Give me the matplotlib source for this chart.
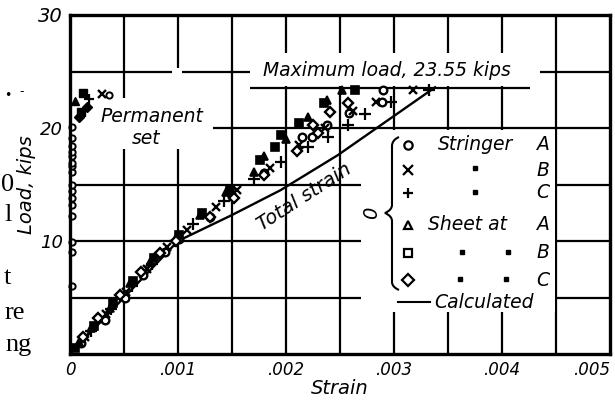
import matplotlib
matplotlib.use("Agg")
import matplotlib.pyplot as plt
from matplotlib.path import Path
from matplotlib.patches import PathPatch, Rectangle

# ---------------- data ----------------
# total strain (load, kips vs strain)
stringer_A_strain = [0.00010, 0.00032, 0.00051, 0.00068, 0.00088, 0.00101, 0.00130, 0.00150, 0.00180, 0.00215, 0.00224, 0.00238, 0.00258, 0.00289, 0.00290]
stringer_A_load   = [1.0, 3.0, 5.0, 7.0, 9.0, 10.2, 12.1, 14.0, 16.0, 19.2, 19.2, 20.3, 21.3, 22.3, 23.4]
stringer_B_strain = [0.00014, 0.00033, 0.00052, 0.00071, 0.00090, 0.00108, 0.00135, 0.00155, 0.00185, 0.00212, 0.00236, 0.00262, 0.00283, 0.00318]
stringer_B_load   = [1.5, 3.5, 5.5, 7.5, 9.5, 11.0, 13.0, 14.5, 16.5, 18.5, 20.0, 21.5, 22.3, 23.4]
stringer_C_strain = [0.00019, 0.00038, 0.00057, 0.00076, 0.00097, 0.00114, 0.00143, 0.00170, 0.00195, 0.00220, 0.00239, 0.00257, 0.00273, 0.00297, 0.00332]
stringer_C_load   = [2.0, 4.0, 6.0, 8.0, 10.0, 11.5, 13.5, 15.5, 17.0, 18.3, 19.2, 20.3, 21.2, 22.3, 23.4]
sheet_A_strain = [0.00008, 0.00019, 0.00037, 0.00056, 0.00074, 0.00099, 0.00120, 0.00144, 0.00170, 0.00180, 0.00200, 0.00220, 0.00238, 0.00252]
sheet_A_load   = [1.1, 2.3, 4.1, 6.3, 8.1, 10.4, 12.3, 14.3, 16.1, 17.5, 19.0, 21.0, 22.5, 23.4]
sheet_B_strain = [0.00005, 0.00022, 0.00040, 0.00058, 0.00078, 0.00101, 0.00122, 0.00148, 0.00176, 0.00190, 0.00195, 0.00212, 0.00235, 0.00264]
sheet_B_load   = [0.5, 2.5, 4.5, 6.5, 8.5, 10.5, 12.5, 14.5, 17.2, 18.3, 19.4, 20.4, 22.2, 23.4]
sheet_C_strain = [0.00012, 0.00026, 0.00046, 0.00066, 0.00083, 0.00098, 0.00130, 0.00152, 0.00180, 0.00210, 0.00230, 0.00225, 0.00241, 0.00257]
sheet_C_load   = [1.5, 3.2, 5.2, 7.3, 8.9, 10.0, 12.1, 13.8, 15.8, 18.0, 19.6, 20.3, 21.4, 22.2]

# permanent set
set_A_strain = [0.00002] * 16 + [0.00036]
set_A_load   = [6.0, 9.0, 9.9, 12.2, 13.2, 13.8, 14.4, 15.0, 16.1, 16.6, 16.9, 17.5, 17.9, 18.4, 19.1, 20.1, 22.9]
set_B_strain = [0.00030]
set_B_load   = [23.0]
set_C_strain = [0.00018]
set_C_load   = [22.6]
set_sheetA_strain = [0.00005]
set_sheetA_load   = [22.4]
set_sheetB_strain = [0.00012, 0.00010]
set_sheetB_load   = [23.1, 21.4]
set_sheetC_strain = [0.00016, 0.00008]
set_sheetC_load   = [21.9, 21.0]

# calculated total strain
calc_strain = [0.0, 0.00100, 0.00150, 0.00195, 0.00248, 0.00281, 0.00338]
calc_load   = [0.0, 10.0, 12.3, 14.5, 17.6, 19.8, 23.6]
max_load = 23.55

x_grid = [0.0005, 0.0010, 0.0015, 0.0020, 0.0025, 0.0030, 0.0035, 0.0040, 0.0045]
y_grid = [5, 10, 15, 20, 25]
x_ticks = [0, 0.001, 0.002, 0.003, 0.004, 0.005]
x_ticklabels = ["0", ".001", ".002", ".003", ".004", ".005"]
y_ticks = [10, 20, 30]
y_ticklabels = ["10", "20", "30"]

# ---------------- figure ----------------
W, H = 615, 400
fig = plt.figure(figsize=(W / 100, H / 100), dpi=100)
L, R, T, B = 70, 610, 15, 354
ax = fig.add_axes([L / W, 1 - B / H, (R - L) / W, (B - T) / H])
ax.set_xlim(0, 0.005)
ax.set_ylim(0, 30)

def axp(px, py):
    return ((px - L) / (R - L), (B - py) / (B - T))

def figp(px, py):
    return (px / W, 1 - py / H)

# grid
for xv in x_grid:
    ax.axvline(xv, color="black", lw=1.6, zorder=1)
for yv in y_grid:
    ax.axhline(yv, color="black", lw=1.6, zorder=1)

# white gaps behind lettering
def white_px(x0, y0, x1, y1):
    a0 = axp(x0, y1)
    a1 = axp(x1, y0)
    ax.add_patch(Rectangle(a0, a1[0] - a0[0], a1[1] - a0[1], transform=ax.transAxes,
                           facecolor="white", edgecolor="none", zorder=2))

white_px(72, 98, 213, 149)     # Permanent set
white_px(172, 68, 182, 149)    # gap in .001 line
white_px(250, 53, 540, 86)     # Maximum load label
white_px(361, 130, 555, 312)   # legend area

for s in ["left", "right", "top", "bottom"]:
    ax.spines[s].set_linewidth(2.4)
    ax.spines[s].set_zorder(5)

# calculated line
ax.plot(calc_strain, calc_load, color="black", lw=1.7, zorder=3)
# max load line
ax.hlines(max_load, 0.00167, 0.00426, color="black", lw=1.6, zorder=3)

mk = dict(color="black", linestyle="none", zorder=4)
ax.plot(stringer_A_strain, stringer_A_load, marker="o", ms=5.5, mfc="white", mew=1.7, **mk)
ax.plot(stringer_B_strain, stringer_B_load, marker="x", ms=6, mew=1.7, **mk)
ax.plot(stringer_C_strain, stringer_C_load, marker="+", ms=8, mew=1.6, **mk)
ax.plot(sheet_A_strain, sheet_A_load, marker="^", ms=6, mfc="black", mew=1.2, **mk)
ax.plot(sheet_B_strain, sheet_B_load, marker="s", ms=5.5, mfc="black", mew=1.2, **mk)
ax.plot(sheet_C_strain, sheet_C_load, marker="D", ms=5.5, mfc="white", mew=1.7, **mk)

ax.plot(set_A_strain, set_A_load, marker="o", ms=4.5, mfc="white", mew=1.4, clip_on=False, **mk)
ax.plot(set_B_strain, set_B_load, marker="x", ms=6, mew=1.7, **mk)
ax.plot(set_C_strain, set_C_load, marker="+", ms=7, mew=1.6, **mk)
ax.plot(set_sheetA_strain, set_sheetA_load, marker="^", ms=6, mfc="black", **mk)
ax.plot(set_sheetB_strain, set_sheetB_load, marker="s", ms=5.5, mfc="black", **mk)
ax.plot(set_sheetC_strain, set_sheetC_load, marker="D", ms=5.5, mfc="black", **mk)

# ticks
it = dict(fontstyle="italic", family="DejaVu Sans")
ax.set_xticks(x_ticks)
ax.set_xticklabels(x_ticklabels, fontsize=12, **it)
ax.get_xticklabels()[-1].set_ha("right")
ax.set_yticks(y_ticks)
ax.set_yticklabels(y_ticklabels, fontsize=13, **it)
ax.get_yticklabels()[-1].set_fontsize(14)
ax.tick_params(length=0, pad=5)
ax.set_xlabel("Strain", fontsize=14, labelpad=0, **it)
ax.set_ylabel("Load, kips", fontsize=14, labelpad=2, **it)

# annotations
ax.text(*axp(152, 117), "Permanent", transform=ax.transAxes, ha="center", va="center", fontsize=13.5, zorder=6, **it)
ax.text(*axp(146, 138), "set", transform=ax.transAxes, ha="center", va="center", fontsize=13.5, zorder=6, **it)
ax.text(*axp(387, 70), "Maximum load, 23.55 kips", transform=ax.transAxes, ha="center", va="center", fontsize=13.5, zorder=6, **it)
ax.text(*axp(304, 197), "Total strain", transform=ax.transAxes, ha="center", va="center", fontsize=14, rotation=33, zorder=6, **it)

# legend
leg_rows = [("o", 145), ("x", 170), ("+", 193), ("^", 225), ("s", 253), ("D", 280)]
fills = ["white", None, None, "white", "white", "white"]
for (m, py), fc in zip(leg_rows, fills):
    kw = dict(marker=m, color="black", linestyle="none", transform=ax.transAxes, zorder=6, mew=1.6)
    if fc:
        kw["mfc"] = fc
    ax.plot(*axp(408, py), ms=7.5 if m in "x+" else 6, **kw)
ax.text(*axp(438, 145), "Stringer", transform=ax.transAxes, ha="left", va="center", fontsize=13.5, zorder=6, **it)
ax.text(*axp(428, 225), "Sheet at", transform=ax.transAxes, ha="left", va="center", fontsize=13.5, zorder=6, **it)
for letter, py in [("A", 145), ("B", 170), ("C", 193), ("A", 225), ("B", 253), ("C", 280)]:
    ax.text(*axp(543, py), letter, transform=ax.transAxes, ha="center", va="center", fontsize=13.5, zorder=6, **it)
for px, py in [(475, 168), (475, 192), (462, 252), (508, 252), (460, 279), (506, 279)]:
    ax.plot(*axp(px, py), marker="s", ms=2.2, color="black", transform=ax.transAxes, zorder=6)
ax.plot([axp(398, 302)[0], axp(430, 302)[0]], [axp(398, 302)[1]] * 2, color="black", lw=1.5, transform=ax.transAxes, zorder=6)
ax.text(*axp(434, 302), "Calculated", transform=ax.transAxes, ha="left", va="center", fontsize=13.5, zorder=6, **it)
ax.text(*axp(372, 213), "0", transform=ax.transAxes, ha="center", va="center", fontsize=14, rotation=90, zorder=6, **it)

# brace
bx = 392
p = [axp(399, 137), axp(bx, 140), axp(bx, 146), axp(bx, 205), axp(bx, 210), axp(385, 213),
     axp(bx, 216), axp(bx, 221), axp(bx, 282), axp(bx, 287), axp(399, 290)]
codes = [Path.MOVETO, Path.CURVE3, Path.CURVE3, Path.LINETO, Path.CURVE3, Path.CURVE3,
         Path.CURVE3, Path.CURVE3, Path.LINETO, Path.CURVE3, Path.CURVE3]
ax.add_patch(PathPatch(Path(p, codes), transform=ax.transAxes, facecolor="none", edgecolor="black", lw=1.5, zorder=6))

# bleed-through text from the facing page
sf = dict(family="Liberation Serif", fontsize=19, ha="left", va="center")
fig.text(*figp(1, 185), "0", **sf)
fig.text(*figp(4, 215), "l", **sf)
fig.text(*figp(4, 278), "t", **sf)
fig.text(*figp(5, 313), "re", **sf)
fig.text(*figp(5, 345), "ng", **sf)
fig.text(*figp(4, 95), "•", family="DejaVu Sans", fontsize=9, ha="left", va="center")
fig.text(*figp(19, 92), "-", family="DejaVu Sans", fontsize=9, ha="left", va="center")

fig.savefig("out.png", dpi=100)
